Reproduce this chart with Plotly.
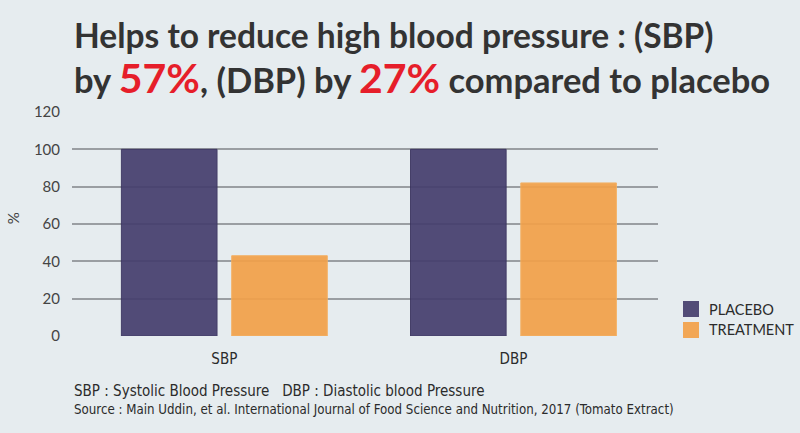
import plotly.graph_objects as go

categories = ["SBP", "DBP"]
placebo = [100, 100]
treatment = [43, 82]
y_ticks = [0, 20, 40, 60, 80, 100, 120]
series_names = ["PLACEBO", "TREATMENT"]

PLACEBO_COLOR = "#463f6e"
TREATMENT_COLOR = "#f2a14a"
BG = "#e6ecef"
TEXT = "#2b2b2b"
RED = "#e61e2a"
NARROW = "Liberation Sans Narrow, DejaVu Sans Condensed, sans-serif"

fig = go.Figure()
fig.add_bar(
    x=categories, y=placebo, name=series_names[0],
    marker=dict(color=PLACEBO_COLOR, opacity=0.93,
                line=dict(color="#39325e", width=1)),
)
fig.add_bar(
    x=categories, y=treatment, name=series_names[1],
    marker=dict(color=TREATMENT_COLOR, opacity=0.93,
                line=dict(color="#f4ae5e", width=1)),
)

# titre en deux annotations : plus simple pour caler chaque ligne
line1 = "Helps to reduce high blood pressure : (SBP)"
line2 = (
    f"by <span style='color:{RED};font-size:41px'>57%</span>, (DBP) by "
    f"<span style='color:{RED};font-size:41px'>27%</span> compared to placebo"
)

annotations = [
    dict(text=line1, xref="paper", yref="paper", x=0.0, y=1.343,
         xanchor="left", yanchor="middle", showarrow=False,
         font=dict(family="Lato, sans-serif", size=33.5, color="#333", weight="bold")),
    dict(text=line2, xref="paper", yref="paper", x=0.0, y=1.152,
         xanchor="left", yanchor="middle", showarrow=False,
         font=dict(family="Lato, sans-serif", size=34.5, color="#333", weight="bold")),
    dict(text="%", xref="paper", yref="paper", x=-0.1, y=0.527,
         xanchor="center", yanchor="middle", textangle=-90, showarrow=False,
         font=dict(family="Lato, sans-serif", size=15, color="#444")),
    dict(text="SBP : Systolic Blood Pressure   DBP : Diastolic blood Pressure",
         xref="paper", yref="paper", x=0.0, y=-0.2455,
         xanchor="left", yanchor="middle", showarrow=False,
         font=dict(family=NARROW, size=15, color=TEXT)),
    dict(text="Source : Main Uddin, et al. International Journal of Food Science and Nutrition, 2017 (Tomato Extract)",
         xref="paper", yref="paper", x=0.0, y=-0.330,
         xanchor="left", yanchor="middle", showarrow=False,
         font=dict(family=NARROW, size=13.2, color=TEXT)),
]

# légende faite à la main (carrés de 16 px à droite du graphe)
shapes = []
legend_rows = [(0.1205, 0.0848, 0.15625), (0.0268, -0.0089, 0.0625)]
for name, color, (yc, y0, y1) in zip(series_names, [PLACEBO_COLOR, TREATMENT_COLOR], legend_rows):
    shapes.append(dict(type="rect", xref="paper", yref="paper",
                       x0=1.0427, x1=1.0700, y0=y0, y1=y1,
                       fillcolor=color, opacity=0.93, line=dict(width=0)))
    annotations.append(dict(text=name, xref="paper", yref="paper", x=1.0836, y=yc,
                            xanchor="left", yanchor="middle", showarrow=False,
                            font=dict(family="Lato, sans-serif", size=14.5, color=TEXT)))

fig.update_layout(
    width=800, height=433,
    paper_bgcolor=BG, plot_bgcolor=BG,
    margin=dict(l=72, r=142, t=112, b=97, autoexpand=False),
    barmode="group", bargap=0.237, bargroupgap=0.133,
    showlegend=False,
    font=dict(family="Lato, sans-serif", color=TEXT),
    annotations=annotations,
    shapes=shapes,
)

fig.update_xaxes(
    range=[-0.527, 1.5], showgrid=False, zeroline=False, showline=False,
    tickfont=dict(family=NARROW, size=15, color=TEXT), ticks="",
    ticklabelstandoff=12,
)
fig.update_yaxes(
    range=[0, 120], tickvals=y_ticks, showgrid=True, gridcolor="#9a9ea2",
    gridwidth=1.5, zeroline=False, showline=False, ticks="",
    tickfont=dict(family="Lato, sans-serif", size=15, color="#444"),
    ticklabelstandoff=11,
)

fig.write_html("out.html", config={"displayModeBar": False},
               post_script="document.body.style.margin='0px';")
